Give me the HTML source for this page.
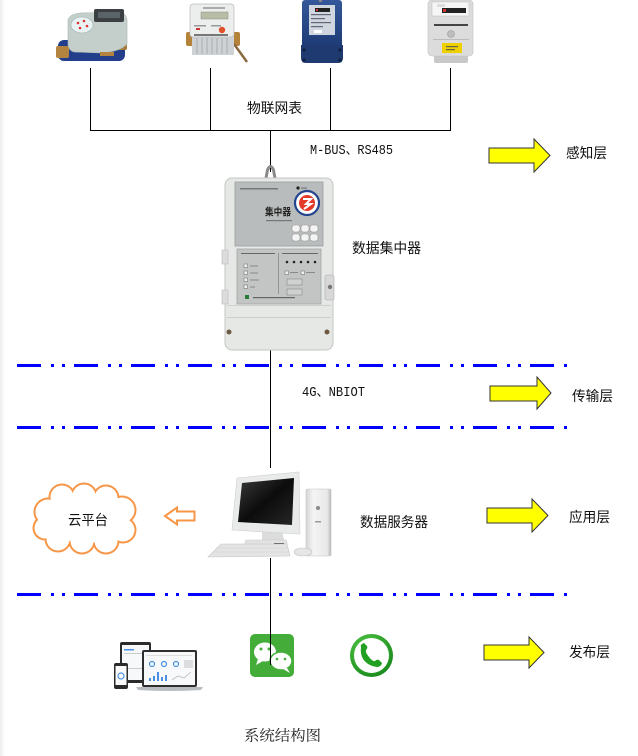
<!DOCTYPE html>
<html>
<head>
<meta charset="utf-8">
<style>
  html,body{margin:0;padding:0;background:#fff;}
  body{width:638px;height:756px;overflow:hidden;}
  svg{display:block;}
  .lbl{font-family:"Liberation Sans","Noto Sans CJK SC",sans-serif;font-size:14px;fill:#111;}
  .mono{font-family:"Liberation Mono","Noto Sans CJK SC",monospace;font-size:14px;fill:#111;}
</style>
</head>
<body>
<svg width="638" height="756" viewBox="0 0 638 756" xmlns="http://www.w3.org/2000/svg">
  <defs>
    <linearGradient id="edge" x1="0" x2="1" y1="0" y2="0">
      <stop offset="0" stop-color="#ececec"/>
      <stop offset="1" stop-color="#ffffff"/>
    </linearGradient>
    <linearGradient id="scr" x1="0" y1="0" x2="1" y2="1">
      <stop offset="0" stop-color="#3a3a3a"/>
      <stop offset="0.5" stop-color="#0c0c0c"/>
      <stop offset="1" stop-color="#262626"/>
    </linearGradient>
    <linearGradient id="tower" x1="0" x2="1" y1="0" y2="0">
      <stop offset="0" stop-color="#d6d6d6"/>
      <stop offset="0.3" stop-color="#f4f4f4"/>
      <stop offset="0.85" stop-color="#e8e8e8"/>
      <stop offset="1" stop-color="#b8b8b8"/>
    </linearGradient>
    <linearGradient id="blue1" x1="0" x2="0" y1="0" y2="1">
      <stop offset="0" stop-color="#35589a"/>
      <stop offset="1" stop-color="#1d3a74"/>
    </linearGradient>
    <radialGradient id="ring" cx="0.4" cy="0.35" r="0.7">
      <stop offset="0" stop-color="#5fd34f"/>
      <stop offset="1" stop-color="#16881a"/>
    </radialGradient>
  </defs>

  <!-- faint left edge -->
  <rect x="0" y="0" width="5" height="756" fill="url(#edge)"/>

  <!-- ============ METERS ============ -->
  <!-- water meter -->
  <g>
    <rect x="58" y="40" width="67" height="21" rx="6" fill="#233f8c"/>
    <rect x="56" y="46" width="13" height="12" rx="2" fill="#b2843f"/>
    <rect x="114" y="38" width="13" height="12" rx="2" fill="#a67a38"/>
    <path d="M68,20 Q70,14 80,13 L120,12 Q126,13 127,20 L127,44 Q120,52 100,53 L74,52 Q68,50 68,44 Z" fill="#c4cfcb" stroke="#a9b4b0" stroke-width="0.6"/>
    <rect x="94" y="9" width="30" height="13" rx="2" fill="#3b3f42"/>
    <rect x="98" y="12" width="22" height="6" fill="#5a6468"/>
    <ellipse cx="82" cy="25" rx="11" ry="8" fill="#e9f3f4" stroke="#9fb3b5" stroke-width="0.6"/>
    <circle cx="78" cy="23" r="1.3" fill="#d33"/>
    <circle cx="84" cy="21" r="1.3" fill="#d33"/>
    <circle cx="87" cy="26" r="1.3" fill="#d33"/>
    <circle cx="80" cy="28" r="1.3" fill="#d33"/>
    <rect x="100" y="52" width="14" height="4" fill="#b2843f"/>
  </g>

  <!-- heat meter -->
  <g>
    <rect x="186" y="32" width="8" height="14" rx="2" fill="#b5823a"/>
    <rect x="232" y="32" width="8" height="14" rx="2" fill="#b5823a"/>
    <path d="M234,44 L247,62" stroke="#8a6a40" stroke-width="2.5"/>
    <rect x="192" y="35" width="42" height="20" fill="#cfd2d4"/>
    <g stroke="#a8acae" stroke-width="1">
      <line x1="197" y1="38" x2="197" y2="54"/><line x1="202" y1="38" x2="202" y2="54"/>
      <line x1="207" y1="38" x2="207" y2="54"/><line x1="212" y1="38" x2="212" y2="54"/>
      <line x1="217" y1="38" x2="217" y2="54"/><line x1="222" y1="38" x2="222" y2="54"/>
      <line x1="227" y1="38" x2="227" y2="54"/>
    </g>
    <rect x="190" y="4" width="44" height="33" rx="3" fill="#eceeee" stroke="#b8bcbc" stroke-width="0.7"/>
    <rect x="201" y="12" width="27" height="7" fill="#b6bca6" stroke="#8a8f80" stroke-width="0.5"/>
    <rect x="203" y="7" width="22" height="2" fill="#aaa"/>
    <rect x="194" y="25" width="12" height="1.5" fill="#999"/>
    <rect x="211" y="25" width="10" height="1.5" fill="#999"/>
    <rect x="196" y="28" width="4" height="2" fill="#c33"/>
    <circle cx="222" cy="30" r="3.2" fill="#e0502a"/>
    <rect x="194" y="34" width="34" height="2" fill="#777"/>
  </g>

  <!-- electric meter (blue) -->
  <g>
    <rect x="302" y="0" width="40" height="48" rx="3" fill="url(#blue1)"/>
    <path d="M301,45 L343,45 L343,58 Q343,63 338,63 L306,63 Q301,63 301,58 Z" fill="#1f3a70"/>
    <circle cx="304" cy="50" r="1.6" fill="#0f1f40"/>
    <circle cx="340" cy="50" r="1.6" fill="#0f1f40"/>
    <circle cx="304" cy="60" r="1.6" fill="#0f1f40"/>
    <circle cx="340" cy="60" r="1.6" fill="#0f1f40"/>
    <rect x="309" y="5" width="26" height="30" fill="#cfd6e0"/>
    <rect x="315" y="8" width="15" height="4" fill="#222"/>
    <rect x="316" y="9" width="2" height="2" fill="#c33"/>
    <rect x="311" y="14" width="20" height="1.2" fill="#667"/>
    <rect x="311" y="18" width="14" height="1.2" fill="#667"/>
    <rect x="311" y="22" width="20" height="1.2" fill="#667"/>
    <rect x="311" y="26" width="12" height="1.2" fill="#667"/>
    <rect x="314" y="30" width="8" height="3" fill="#fff"/>
    <rect x="319" y="0" width="3" height="2" fill="#888"/>
  </g>

  <!-- gas meter -->
  <g>
    <rect x="434" y="53" width="34" height="10" rx="2" fill="#c8c8c8"/>
    <rect x="428" y="0" width="45" height="56" rx="4" fill="#dcdcdc" stroke="#c2c2c2" stroke-width="0.6"/>
    <rect x="432" y="2" width="37" height="14" fill="#f6f6f6" stroke="#bbb" stroke-width="0.5"/>
    <rect x="442" y="8" width="24" height="5" fill="#222"/>
    <rect x="443" y="9" width="3" height="3" fill="#c33"/>
    <rect x="437" y="4" width="8" height="3" fill="#ddd"/>
    <rect x="434" y="24" width="34" height="2" fill="#444"/>
    <circle cx="451" cy="34" r="3.5" fill="#bdbdbd" stroke="#999" stroke-width="0.6"/>
    <rect x="433" y="39" width="36" height="1" fill="#bbb"/>
    <rect x="442" y="43" width="20" height="10" fill="#efd000"/>
    <rect x="446" y="46" width="12" height="1.2" fill="#664"/>
    <rect x="446" y="49" width="9" height="1.2" fill="#664"/>
  </g>

  <!-- meter connector lines -->
  <g stroke="#000" stroke-width="1" fill="none">
    <line x1="90.5" y1="68" x2="90.5" y2="130.5"/>
    <line x1="210.5" y1="68" x2="210.5" y2="130.5"/>
    <line x1="330.5" y1="68" x2="330.5" y2="130.5"/>
    <line x1="450.5" y1="68" x2="450.5" y2="130.5"/>
    <line x1="90" y1="130.5" x2="451" y2="130.5"/>
    <line x1="270.5" y1="130" x2="270.5" y2="172"/>
    <line x1="270.5" y1="350" x2="270.5" y2="468"/>
    <line x1="270.5" y1="558" x2="270.5" y2="665"/>
  </g>

  <text class="lbl" x="247" y="108" dominant-baseline="central" textLength="55" lengthAdjust="spacingAndGlyphs">物联网表</text>
  <text class="mono" x="310" y="151" dominant-baseline="central" textLength="83" lengthAdjust="spacingAndGlyphs">M-BUS、RS485</text>

  <!-- ============ CONCENTRATOR ============ -->
  <g>
    <path d="M265.5,181 L267.5,170 Q270.5,163 273.5,170 L275.5,181" fill="none" stroke="#8a8a8a" stroke-width="3"/>
    <rect x="225" y="178" width="108" height="172" rx="7" fill="#e6e8e6" stroke="#c4c6c4" stroke-width="1"/>
    <rect x="222" y="250" width="6" height="14" fill="#dcdcdc" stroke="#bbb" stroke-width="0.6"/>
    <rect x="222" y="290" width="6" height="14" fill="#dcdcdc" stroke="#bbb" stroke-width="0.6"/>
    <rect x="325" y="275" width="9" height="25" rx="2" fill="#d8d8d8" stroke="#aaa" stroke-width="0.6"/>
    <circle cx="330" cy="287" r="2.2" fill="#777"/>
    <rect x="235" y="182" width="88" height="64" fill="#b9bcbc" stroke="#9c9f9f" stroke-width="0.8"/>
    <rect x="240" y="188" width="38" height="1.5" fill="#777"/>
    <circle cx="298" cy="188" r="1.6" fill="#222"/>
    <rect x="301" y="187.5" width="6" height="1.2" fill="#777"/>
    <circle cx="307" cy="203" r="12" fill="#ffffff" stroke="#23448e" stroke-width="2.2"/>
    <circle cx="307" cy="203" r="8" fill="#e33a2a"/>
    <path d="M303,199 L311,199 L306,204 L311,204 L304,209" stroke="#fff" stroke-width="2" fill="none"/>
    <text x="278" y="211" text-anchor="middle" dominant-baseline="central" style="font-family:'Noto Sans CJK SC',sans-serif;font-size:10px;font-weight:bold;fill:#222" textLength="26" lengthAdjust="spacingAndGlyphs">集中器</text>
    <rect x="266" y="220" width="26" height="1.2" fill="#777"/>
    <g fill="#f4f4f4" stroke="#999" stroke-width="0.6">
      <rect x="292" y="225" width="8" height="7" rx="2.5"/>
      <rect x="301" y="225" width="8" height="7" rx="2.5"/>
      <rect x="310" y="225" width="8" height="7" rx="2.5"/>
      <rect x="292" y="234" width="8" height="7" rx="2.5"/>
      <rect x="301" y="234" width="8" height="7" rx="2.5"/>
      <rect x="310" y="234" width="8" height="7" rx="2.5"/>
    </g>
    <rect x="237" y="249" width="84" height="55" fill="#c3c5c5" stroke="#a2a5a5" stroke-width="0.8"/>
    <line x1="278.5" y1="253" x2="278.5" y2="294" stroke="#888" stroke-width="0.8"/>
    <rect x="241" y="253" width="34" height="1" fill="#666"/>
    <rect x="282" y="253" width="36" height="1" fill="#666"/>
    <g fill="#f0f0f0" stroke="#777" stroke-width="0.6">
      <rect x="244" y="264" width="3.5" height="3.5"/>
      <rect x="244" y="271" width="3.5" height="3.5"/>
      <rect x="244" y="278" width="3.5" height="3.5"/>
      <rect x="244" y="285" width="3.5" height="3.5"/>
      <rect x="285" y="271" width="3.5" height="3.5"/>
      <rect x="301" y="271" width="3.5" height="3.5"/>
    </g>
    <g fill="#888">
      <rect x="250" y="265.5" width="8" height="1"/>
      <rect x="250" y="272.5" width="8" height="1"/>
      <rect x="250" y="279.5" width="9" height="1"/>
      <rect x="250" y="286.5" width="5" height="1"/>
      <rect x="290" y="272" width="8" height="1"/>
      <rect x="306" y="272" width="9" height="1"/>
    </g>
    <g fill="#222">
      <circle cx="287" cy="262" r="1.3"/><circle cx="294" cy="262" r="1.3"/>
      <circle cx="301" cy="262" r="1.3"/><circle cx="308" cy="262" r="1.3"/>
      <circle cx="315" cy="262" r="1.3"/>
    </g>
    <rect x="287" y="279" width="15" height="6" fill="#cfd1d1" stroke="#888" stroke-width="0.6"/>
    <rect x="287" y="289" width="15" height="6" fill="#cfd1d1" stroke="#888" stroke-width="0.6"/>
    <rect x="245" y="295" width="4" height="4" fill="#2a7a3a"/>
    <rect x="253" y="297" width="42" height="1.2" fill="#666"/>
    <rect x="227" y="305" width="104" height="1" fill="#cfcfcf"/>
    <rect x="227" y="317" width="104" height="1" fill="#cccccc"/>
    <circle cx="229" cy="332" r="2.5" fill="#6e5a44"/>
    <circle cx="327" cy="332" r="2.5" fill="#6e5a44"/>
  </g>
  <text class="lbl" x="352" y="248" dominant-baseline="central" textLength="69" lengthAdjust="spacingAndGlyphs">数据集中器</text>

  <!-- ============ DASH-DOT LINES ============ -->
  <g stroke="#0000ff" stroke-width="3" stroke-dasharray="24 10 3 8 3 9" fill="none">
    <line x1="17" y1="365.5" x2="568" y2="365.5"/>
    <line x1="17" y1="427.5" x2="568" y2="427.5"/>
    <line x1="17" y1="594.5" x2="568" y2="594.5"/>
  </g>

  <text class="mono" x="302" y="393" dominant-baseline="central" textLength="63" lengthAdjust="spacingAndGlyphs">4G、NBIOT</text>

  <!-- ============ YELLOW ARROWS ============ -->
  <g fill="#ffff00" stroke="#333" stroke-width="1" stroke-linejoin="miter">
    <polygon points="489,148 534,148 534,139 550,155.5 534,172 534,163 489,163"/>
    <polygon points="490,386 537,386 537,377 551,393 537,409 537,401 490,401"/>
    <polygon points="487,508 532,508 532,499 548,515.5 532,532 532,523 487,523"/>
    <polygon points="484,645 529,645 529,637 544,652.5 529,668 529,660 484,660"/>
  </g>
  <text class="lbl" x="566" y="153" dominant-baseline="central" textLength="41" lengthAdjust="spacingAndGlyphs">感知层</text>
  <text class="lbl" x="572" y="396" dominant-baseline="central" textLength="41" lengthAdjust="spacingAndGlyphs">传输层</text>
  <text class="lbl" x="569" y="517" dominant-baseline="central" textLength="41" lengthAdjust="spacingAndGlyphs">应用层</text>
  <text class="lbl" x="569" y="652" dominant-baseline="central" textLength="41" lengthAdjust="spacingAndGlyphs">发布层</text>

  <!-- ============ CLOUD ============ -->
  <g>
    <g fill="#f79646">
      <circle cx="48" cy="512" r="14.5"/>
      <circle cx="62" cy="497" r="13.5"/>
      <circle cx="84" cy="496" r="13.5"/>
      <circle cx="106" cy="498" r="13.5"/>
      <circle cx="122" cy="510" r="14.5"/>
      <circle cx="123" cy="530" r="13.5"/>
      <circle cx="106" cy="541" r="13.5"/>
      <circle cx="82" cy="541" r="13.5"/>
      <circle cx="58" cy="539" r="13.5"/>
      <circle cx="45" cy="528" r="12.5"/>
    </g>
    <g fill="#ffffff">
      <circle cx="48" cy="512" r="12.5"/>
      <circle cx="62" cy="497" r="11.5"/>
      <circle cx="84" cy="496" r="11.5"/>
      <circle cx="106" cy="498" r="11.5"/>
      <circle cx="122" cy="510" r="12.5"/>
      <circle cx="123" cy="530" r="11.5"/>
      <circle cx="106" cy="541" r="11.5"/>
      <circle cx="82" cy="541" r="11.5"/>
      <circle cx="58" cy="539" r="11.5"/>
      <circle cx="45" cy="528" r="10.5"/>
      <ellipse cx="85" cy="519" rx="38" ry="24"/>
    </g>
    <text class="lbl" x="88" y="520" text-anchor="middle" dominant-baseline="central" textLength="40" lengthAdjust="spacingAndGlyphs">云平台</text>
  </g>
  <polygon points="165,516 177,507.5 177,511.5 194.5,511.5 194.5,520.5 177,520.5 177,524.5" fill="#fff" stroke="#f79646" stroke-width="2" stroke-linejoin="miter"/>

  <!-- ============ COMPUTER ============ -->
  <g>
    <rect x="306" y="489" width="25" height="67" rx="1.5" fill="url(#tower)" stroke="#c4c4c4" stroke-width="0.6"/>
    <circle cx="318" cy="508" r="2" fill="#8a8a8a"/>
    <rect x="315" y="521" width="6" height="1.5" fill="#999"/>
    <path d="M262,530 L282,530 L285,545 L262,546 Z" fill="#dcdcdc"/>
    <rect x="245" y="540" width="42" height="8" rx="2" fill="#e2e2e2" stroke="#c8c8c8" stroke-width="0.5"/>
    <rect x="274" y="543" width="10" height="3" fill="#555"/>
    <polygon points="237,478 299,472 300,534 232,530" fill="#e9eaea" stroke="#cfcfcf" stroke-width="0.6"/>
    <polygon points="242,483 294,478 292,525 238,522" fill="url(#scr)"/>
    <polygon points="221,544 287,544 290,556 208,557" fill="#e4e4e4" stroke="#c6c6c6" stroke-width="0.6"/>
    <g stroke="#cfcfcf" stroke-width="0.6">
      <line x1="216" y1="548" x2="288" y2="548"/>
      <line x1="213" y1="552" x2="289" y2="552"/>
    </g>
    <ellipse cx="303" cy="552" rx="9" ry="4" fill="#e6e6e6" stroke="#c4c4c4" stroke-width="0.6"/>
  </g>
  <text class="lbl" x="360" y="522" dominant-baseline="central" textLength="68" lengthAdjust="spacingAndGlyphs">数据服务器</text>

  <!-- ============ BOTTOM ICONS ============ -->
  <g>
    <rect x="120" y="642" width="31" height="41" rx="2" fill="#2b2b2b"/>
    <rect x="122" y="645" width="27" height="35" fill="#f7f8fa"/>
    <rect x="124" y="649" width="10" height="1.5" fill="#4a90e2"/>
    <rect x="124" y="653" width="20" height="1" fill="#ccc"/>
    <rect x="124" y="668" width="20" height="1" fill="#ccc"/>
    <rect x="142" y="650" width="55" height="37" rx="2" fill="#2e2e2e"/>
    <rect x="144" y="652" width="51" height="33" fill="#f8f9fb"/>
    <path d="M136,687 L203,687 L201,690 Q170,692 138,690 Z" fill="#b9bcc0"/>
    <g fill="none" stroke="#4a90e2" stroke-width="1.2">
      <circle cx="152" cy="664" r="2.5"/>
      <circle cx="164" cy="664" r="2.5"/>
      <circle cx="176" cy="664" r="2.5"/>
    </g>
    <rect x="184" y="660" width="9" height="8" fill="#ddd"/>
    <g fill="#4a90e2">
      <rect x="149" y="678" width="2" height="3"/>
      <rect x="153" y="676" width="2" height="5"/>
      <rect x="157" y="672" width="2" height="9"/>
      <rect x="161" y="677" width="2" height="4"/>
      <rect x="165" y="675" width="2" height="6"/>
    </g>
    <polyline points="172,680 178,676 184,678 191,672" fill="none" stroke="#bbb" stroke-width="0.8"/>
    <rect x="146" y="655" width="46" height="1" fill="#ddd"/>
    <rect x="114" y="663" width="14" height="26" rx="2" fill="#2b2b2b"/>
    <rect x="115.5" y="666" width="11" height="19" fill="#fafafa"/>
    <circle cx="121" cy="676" r="3" fill="none" stroke="#4a90e2" stroke-width="1.2"/>
  </g>

  <g>
    <rect x="250" y="634" width="44" height="43" rx="5" fill="#44ad3a"/>
    <ellipse cx="265" cy="652" rx="11" ry="9.5" fill="#fff"/>
    <path d="M258,659 L256,665 L263,661 Z" fill="#fff"/>
    <ellipse cx="281" cy="661" rx="11" ry="9" fill="#fff" stroke="#44ad3a" stroke-width="1.5"/>
    <path d="M287,668 L290,673 L283,669 Z" fill="#fff"/>
    <circle cx="261" cy="649" r="1.5" fill="#44ad3a"/>
    <circle cx="269" cy="649" r="1.5" fill="#44ad3a"/>
    <circle cx="277" cy="659" r="1.3" fill="#44ad3a"/>
    <circle cx="285" cy="659" r="1.3" fill="#44ad3a"/>
  </g>
  <line x1="270.5" y1="634" x2="270.5" y2="665" stroke="#000" stroke-width="1"/>

  <g>
    <circle cx="371.5" cy="655.5" r="21.5" fill="url(#ring)"/>
    <circle cx="371.5" cy="655.5" r="17.5" fill="#ffffff"/>
    <path d="M361,648 Q360,644 364,643 L367,646 Q368,648 366,650 Q365,652 369,657 Q373,662 375,661 Q377,659 379,660 L382,663 Q381,667 377,667 Q368,666 363,659 Q360,653 361,648 Z" fill="#21a021"/>
  </g>

  <text x="244" y="735" dominant-baseline="central" style="font-family:'Noto Serif CJK SC','Liberation Serif',serif;font-size:15px;fill:#222" textLength="77" lengthAdjust="spacingAndGlyphs">系统结构图</text>
</svg>
</body>
</html>
